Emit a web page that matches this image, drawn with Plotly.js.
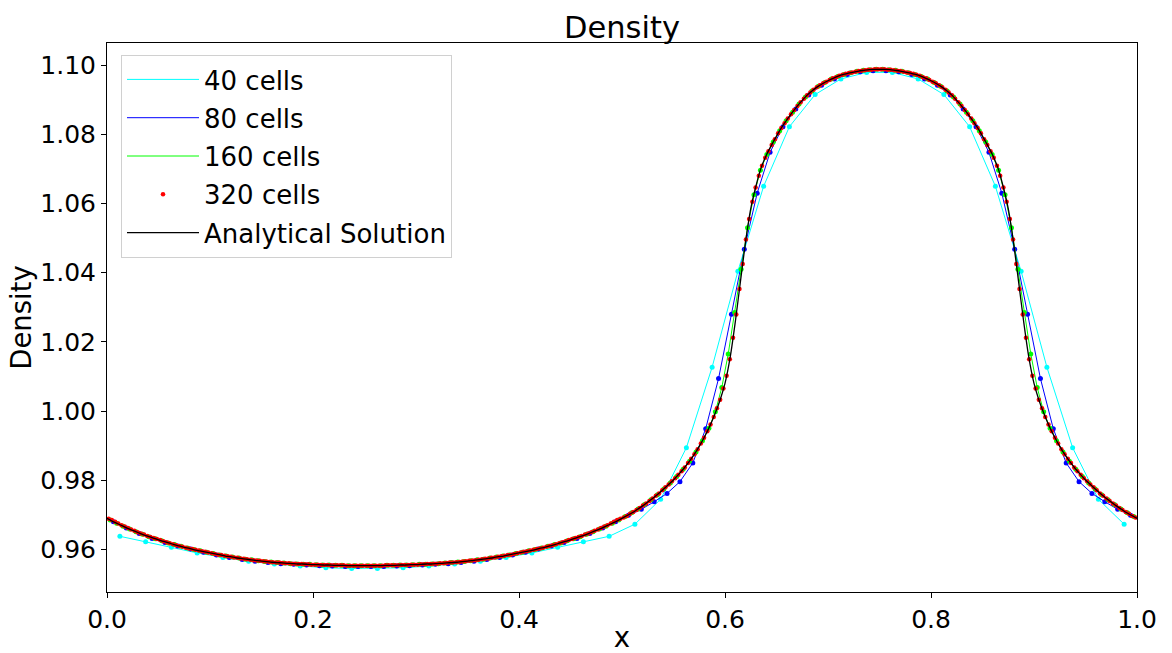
<!DOCTYPE html>
<html>
<head>
<meta charset="utf-8">
<script src="https://cdn.plot.ly/plotly-3.0.1.min.js"></script>
<style>
  html, body { margin: 0; padding: 0; background: #ffffff; }
  #chart { width: 1172px; height: 653px; }
</style>
</head>
<body>
<div id="chart"></div>
<script>
// ---------------- data ----------------
const seriesNames = ["40 cells", "80 cells", "160 cells", "320 cells", "Analytical Solution"];
const cellCounts = [40, 80, 160, 320];
const xTickLabels = ["0.0", "0.2", "0.4", "0.6", "0.8", "1.0"];
const yTickLabels = ["0.96", "0.98", "1.00", "1.02", "1.04", "1.06", "1.08", "1.10"];
const xTickValues = [0.0, 0.2, 0.4, 0.6, 0.8, 1.0];
const yTickValues = [0.96, 0.98, 1.00, 1.02, 1.04, 1.06, 1.08, 1.10];

// density, 40 cells (cell centres)
const rho40 = [
  0.9638, 0.9622, 0.9606, 0.9590, 0.9577, 0.9566, 0.9558, 0.9552, 0.9547, 0.9545,
  0.9545, 0.9547, 0.9552, 0.9558, 0.9566, 0.9577, 0.9590, 0.9606, 0.9622, 0.9638,
  0.9673, 0.9745, 0.9894, 1.0127, 1.0404, 1.0650, 1.0822, 1.0915, 1.0960, 1.0979,
  1.0979, 1.0960, 1.0915, 1.0822, 1.0650, 1.0404, 1.0127, 0.9894, 0.9745, 0.9673
];

// density, 80 cells
const rho80 = [
  0.9680, 0.9662, 0.9646, 0.9632, 0.9620, 0.9610, 0.9601, 0.9592, 0.9584, 0.9577,
  0.9571, 0.9566, 0.9562, 0.9559, 0.9557, 0.9555, 0.9553, 0.9552, 0.9551, 0.9551,
  0.9551, 0.9551, 0.9552, 0.9553, 0.9555, 0.9557, 0.9559, 0.9562, 0.9566, 0.9571,
  0.9577, 0.9584, 0.9592, 0.9601, 0.9610, 0.9620, 0.9632, 0.9646, 0.9662, 0.9680,
  0.9699, 0.9716, 0.9738, 0.9762, 0.9796, 0.9850, 0.9949, 1.0094, 1.0280, 1.0468,
  1.0630, 1.0748, 1.0822, 1.0873, 1.0914, 1.0942, 1.0960, 1.0973, 1.0981, 1.0984,
  1.0984, 1.0981, 1.0973, 1.0960, 1.0942, 1.0914, 1.0873, 1.0822, 1.0748, 1.0630,
  1.0468, 1.0280, 1.0094, 0.9949, 0.9850, 0.9796, 0.9762, 0.9738, 0.9716, 0.9699
];

// density, 160 cells
const rho160 = [
  0.9685, 0.9676, 0.9667, 0.9659, 0.9651, 0.9644, 0.9637, 0.9631, 0.9625, 0.9619,
  0.9614, 0.9609, 0.9604, 0.9600, 0.9596, 0.9592, 0.9588, 0.9584, 0.9581, 0.9578,
  0.9575, 0.9572, 0.9570, 0.9567, 0.9565, 0.9564, 0.9562, 0.9561, 0.9559, 0.9558,
  0.9557, 0.9557, 0.9556, 0.9555, 0.9555, 0.9554, 0.9554, 0.9553, 0.9553, 0.9553,
  0.9553, 0.9553, 0.9553, 0.9554, 0.9554, 0.9555, 0.9555, 0.9556, 0.9557, 0.9557,
  0.9558, 0.9559, 0.9561, 0.9562, 0.9564, 0.9565, 0.9567, 0.9570, 0.9572, 0.9575,
  0.9578, 0.9581, 0.9584, 0.9588, 0.9592, 0.9596, 0.9600, 0.9604, 0.9609, 0.9614,
  0.9619, 0.9625, 0.9631, 0.9637, 0.9644, 0.9651, 0.9659, 0.9667, 0.9676, 0.9685,
  0.9695, 0.9706, 0.9717, 0.9730, 0.9744, 0.9758, 0.9775, 0.9792, 0.9811, 0.9832,
  0.9855, 0.9882, 0.9914, 0.9950, 0.9998, 1.0068, 1.0165, 1.0285, 1.0410, 1.0530,
  1.0625, 1.0696, 1.0742, 1.0778, 1.0810, 1.0839, 1.0864, 1.0888, 1.0908, 1.0925,
  1.0939, 1.0950, 1.0960, 1.0967, 1.0973, 1.0978, 1.0982, 1.0985, 1.0987, 1.0988,
  1.0988, 1.0987, 1.0985, 1.0982, 1.0978, 1.0973, 1.0967, 1.0960, 1.0950, 1.0939,
  1.0925, 1.0908, 1.0888, 1.0864, 1.0839, 1.0810, 1.0778, 1.0742, 1.0696, 1.0625,
  1.0530, 1.0410, 1.0285, 1.0165, 1.0068, 0.9998, 0.9950, 0.9914, 0.9882, 0.9855,
  0.9832, 0.9811, 0.9792, 0.9775, 0.9758, 0.9744, 0.9730, 0.9717, 0.9706, 0.9695
];

// density, 320 cells
const rho320 = [
  0.9689, 0.9685, 0.9680, 0.9675, 0.9670, 0.9666, 0.9662, 0.9658, 0.9654, 0.9650,
  0.9646, 0.9643, 0.9639, 0.9636, 0.9633, 0.9630, 0.9627, 0.9624, 0.9621, 0.9618,
  0.9615, 0.9612, 0.9610, 0.9608, 0.9605, 0.9603, 0.9601, 0.9599, 0.9597, 0.9595,
  0.9593, 0.9591, 0.9589, 0.9587, 0.9585, 0.9584, 0.9582, 0.9580, 0.9579, 0.9577,
  0.9576, 0.9574, 0.9573, 0.9572, 0.9570, 0.9569, 0.9568, 0.9567, 0.9566, 0.9565,
  0.9564, 0.9563, 0.9562, 0.9562, 0.9561, 0.9560, 0.9560, 0.9559, 0.9559, 0.9558,
  0.9558, 0.9557, 0.9557, 0.9556, 0.9556, 0.9556, 0.9555, 0.9555, 0.9555, 0.9554,
  0.9554, 0.9554, 0.9554, 0.9554, 0.9553, 0.9553, 0.9553, 0.9553, 0.9553, 0.9553,
  0.9553, 0.9553, 0.9553, 0.9553, 0.9553, 0.9553, 0.9554, 0.9554, 0.9554, 0.9554,
  0.9554, 0.9555, 0.9555, 0.9555, 0.9556, 0.9556, 0.9556, 0.9557, 0.9557, 0.9558,
  0.9558, 0.9559, 0.9559, 0.9560, 0.9560, 0.9561, 0.9562, 0.9562, 0.9563, 0.9564,
  0.9565, 0.9566, 0.9567, 0.9568, 0.9569, 0.9570, 0.9572, 0.9573, 0.9574, 0.9576,
  0.9577, 0.9579, 0.9580, 0.9582, 0.9584, 0.9585, 0.9587, 0.9589, 0.9591, 0.9593,
  0.9595, 0.9597, 0.9599, 0.9601, 0.9603, 0.9605, 0.9608, 0.9610, 0.9612, 0.9615,
  0.9618, 0.9621, 0.9624, 0.9627, 0.9630, 0.9633, 0.9636, 0.9639, 0.9643, 0.9646,
  0.9650, 0.9654, 0.9658, 0.9662, 0.9666, 0.9670, 0.9675, 0.9680, 0.9685, 0.9689,
  0.9692, 0.9697, 0.9703, 0.9708, 0.9714, 0.9720, 0.9727, 0.9733, 0.9740, 0.9747,
  0.9755, 0.9762, 0.9771, 0.9780, 0.9788, 0.9797, 0.9806, 0.9816, 0.9826, 0.9837,
  0.9850, 0.9862, 0.9875, 0.9890, 0.9906, 0.9923, 0.9942, 0.9961, 0.9983, 1.0008,
  1.0033, 1.0065, 1.0102, 1.0150, 1.0212, 1.0279, 1.0353, 1.0425, 1.0496, 1.0555,
  1.0605, 1.0646, 1.0680, 1.0709, 1.0732, 1.0751, 1.0769, 1.0786, 1.0803, 1.0818,
  1.0832, 1.0846, 1.0858, 1.0870, 1.0882, 1.0893, 1.0903, 1.0913, 1.0921, 1.0929,
  1.0936, 1.0942, 1.0948, 1.0952, 1.0957, 1.0962, 1.0965, 1.0969, 1.0972, 1.0975,
  1.0977, 1.0979, 1.0981, 1.0983, 1.0984, 1.0985, 1.0987, 1.0987, 1.0988, 1.0988,
  1.0988, 1.0988, 1.0987, 1.0987, 1.0985, 1.0984, 1.0983, 1.0981, 1.0979, 1.0977,
  1.0975, 1.0972, 1.0969, 1.0965, 1.0962, 1.0957, 1.0952, 1.0948, 1.0942, 1.0936,
  1.0929, 1.0921, 1.0913, 1.0903, 1.0893, 1.0882, 1.0870, 1.0858, 1.0846, 1.0832,
  1.0818, 1.0803, 1.0786, 1.0769, 1.0751, 1.0732, 1.0709, 1.0680, 1.0646, 1.0605,
  1.0555, 1.0496, 1.0425, 1.0353, 1.0279, 1.0212, 1.0150, 1.0102, 1.0065, 1.0033,
  1.0008, 0.9983, 0.9961, 0.9942, 0.9923, 0.9906, 0.9890, 0.9875, 0.9862, 0.9850,
  0.9837, 0.9826, 0.9816, 0.9806, 0.9797, 0.9788, 0.9780, 0.9771, 0.9762, 0.9755,
  0.9747, 0.9740, 0.9733, 0.9727, 0.9720, 0.9714, 0.9708, 0.9703, 0.9697, 0.9692
];

// analytical solution, sampled every 0.005 in x from 0 to 1
const analyticalStep = 0.005;
const rhoExact = [
  0.9690, 0.9682, 0.9675, 0.9668, 0.9661, 0.9655, 0.9649, 0.9643, 0.9638, 0.9633,
  0.9628, 0.9623, 0.9619, 0.9614, 0.9610, 0.9606, 0.9603, 0.9599, 0.9596, 0.9593,
  0.9590, 0.9587, 0.9584, 0.9581, 0.9579, 0.9576, 0.9574, 0.9572, 0.9570, 0.9568,
  0.9566, 0.9565, 0.9563, 0.9562, 0.9561, 0.9560, 0.9559, 0.9558, 0.9558, 0.9557,
  0.9556, 0.9556, 0.9555, 0.9555, 0.9554, 0.9554, 0.9554, 0.9553, 0.9553, 0.9553,
  0.9553,
  0.9553, 0.9553, 0.9553, 0.9554, 0.9554, 0.9554, 0.9555, 0.9555, 0.9556, 0.9556,
  0.9557, 0.9558, 0.9558, 0.9559, 0.9560, 0.9561, 0.9562, 0.9563, 0.9565, 0.9566,
  0.9568, 0.9570, 0.9572, 0.9574, 0.9576, 0.9579, 0.9581, 0.9584, 0.9587, 0.9590,
  0.9593, 0.9596, 0.9599, 0.9603, 0.9606, 0.9610, 0.9614, 0.9619, 0.9623, 0.9628,
  0.9633, 0.9638, 0.9643, 0.9649, 0.9655, 0.9661, 0.9668, 0.9675, 0.9682, 0.9690,
  0.9698, 0.9706, 0.9716, 0.9726, 0.9737, 0.9748, 0.9760, 0.9773, 0.9787, 0.9801,
  0.9817, 0.9834, 0.9853, 0.9874, 0.9898, 0.9925, 0.9955, 0.9990, 1.0030, 1.0080,
  1.0155, 1.0258, 1.0375, 1.0490, 1.0585, 1.0650, 1.0703, 1.0739, 1.0768, 1.0795,
  1.0820, 1.0842, 1.0862, 1.0881, 1.0898, 1.0914, 1.0927, 1.0938, 1.0947, 1.0955,
  1.0962, 1.0968, 1.0973, 1.0977, 1.0980, 1.0983, 1.0985, 1.0987, 1.0988, 1.0988,
  1.0988, 1.0987, 1.0985, 1.0983, 1.0980, 1.0977, 1.0973, 1.0968, 1.0962, 1.0955,
  1.0947, 1.0938, 1.0927, 1.0914, 1.0898, 1.0881, 1.0862, 1.0842, 1.0820, 1.0795,
  1.0768, 1.0739, 1.0703, 1.0650, 1.0585, 1.0490, 1.0375, 1.0258, 1.0155, 1.0080,
  1.0030, 0.9990, 0.9955, 0.9925, 0.9898, 0.9874, 0.9853, 0.9834, 0.9817, 0.9801,
  0.9787, 0.9773, 0.9760, 0.9748, 0.9737, 0.9726, 0.9716, 0.9706, 0.9698, 0.9690
];

// ---------------- styling ----------------
const FONT = "DejaVu Sans, Liberation Sans, Arial, sans-serif";
const colors = ["#00ffff", "#0000ff", "#00ff00", "#ff0000", "#000000"];
const numeric = [rho40, rho80, rho160];

const traces = [];
numeric.forEach((ys, k) => {
  const n = cellCounts[k];
  // line (shown in legend)
  traces.push({
    type: "scatter", mode: "lines", name: seriesNames[k],
    y: ys, x0: 0.5 / n, dx: 1 / n,
    line: { color: colors[k], width: 1 },
    legendgroup: "g" + k, showlegend: true, hoverinfo: "skip"
  });
  // cell-centre markers
  traces.push({
    type: "scatter", mode: "markers", name: seriesNames[k],
    y: ys, x0: 0.5 / n, dx: 1 / n,
    marker: { color: colors[k], size: 5 },
    legendgroup: "g" + k, showlegend: false, hoverinfo: "skip"
  });
});
traces.push({
  type: "scatter", mode: "markers", name: seriesNames[3],
  y: rho320, x0: 0.5 / cellCounts[3], dx: 1 / cellCounts[3],
  marker: { color: colors[3], size: 4.5 },
  legendgroup: "g3", showlegend: true, hoverinfo: "skip"
});
traces.push({
  type: "scatter", mode: "lines", name: seriesNames[4],
  y: rhoExact, x0: 0, dx: analyticalStep,
  line: { color: colors[4], width: 1.3, shape: "spline", smoothing: 0.6 },
  legendgroup: "g4", showlegend: true, hoverinfo: "skip"
});

const axisCommon = {
  showline: true, mirror: true, linecolor: "#000", linewidth: 1,
  ticks: "outside", ticklen: 5, tickwidth: 1, tickcolor: "#000",
  showgrid: false, zeroline: false,
  tickfont: { family: FONT, size: 25, color: "#000" },
  tickmode: "array"
};

const layout = {
  width: 1172, height: 653,
  margin: { l: 107, r: 35, t: 43, b: 61 },
  paper_bgcolor: "#ffffff", plot_bgcolor: "#ffffff",
  font: { family: FONT, color: "#000" },
  title: {
    text: "Density", font: { family: FONT, size: 30.5, color: "#000" },
    x: 0.5, xref: "paper", xanchor: "center",
    y: 1 - 27 / 653, yref: "container", yanchor: "middle"
  },
  xaxis: Object.assign({}, axisCommon, {
    range: [0, 1], tickvals: xTickValues, ticktext: xTickLabels,
    title: { text: "x", font: { family: FONT, size: 27.5, color: "#000" }, standoff: 6 }
  }),
  yaxis: Object.assign({}, axisCommon, {
    range: [0.9477, 1.1064], tickvals: yTickValues, ticktext: yTickLabels,
    title: { text: "Density", font: { family: FONT, size: 27.5, color: "#000" }, standoff: 0 }
  }),
  showlegend: true,
  legend: {
    x: (121 - 107) / 1030, y: 1 - (55 - 43) / 549,
    xanchor: "left", yanchor: "top",
    bgcolor: "rgba(255,255,255,0.85)", bordercolor: "#d0d0d0", borderwidth: 1,
    font: { family: FONT, size: 26, color: "#000" },
    traceorder: "grouped", tracegroupgap: 1.5, itemwidth: 72
  }
};

Plotly.newPlot("chart", traces, layout, { staticPlot: true, displayModeBar: false });
</script>
</body>
</html>
